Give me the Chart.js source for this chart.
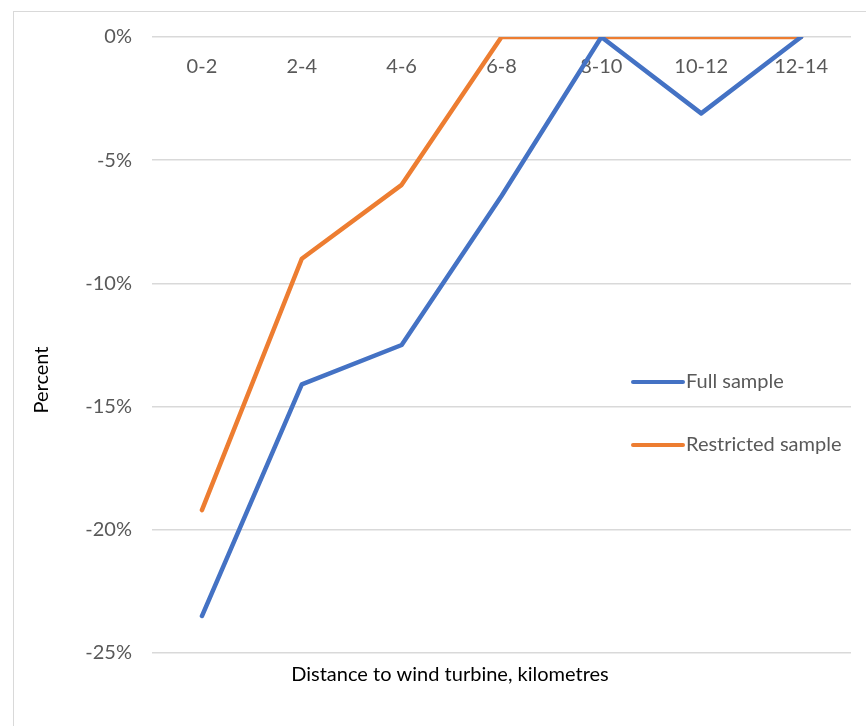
<!DOCTYPE html>
<html>
<head>
<meta charset="utf-8">
<script src="https://cdn.jsdelivr.net/npm/chart.js@4/dist/chart.umd.min.js"></script>
<style>
  html, body { margin: 0; padding: 0; background: #fff; overflow: hidden; }
  #frame {
    position: absolute; left: 13px; top: 11px;
    width: 872px; height: 730px;
    border: 1px solid #d9d9d9;
  }
  #chart { display: block; }
</style>
</head>
<body>
<div id="frame"><canvas id="chart" width="872" height="730"></canvas></div>
<script>
// categories and series (percent)
const distances = ['0-2', '2-4', '4-6', '6-8', '8-10', '10-12', '12-14']
const fullSample = [-23.5, -14.1, -12.5, -6.45, 0, -3.1, 0]
const restrictedSample = [-19.2, -9.0, -6.0, 0, 0, 0, 0]
const yTicks = [0, -5, -10, -15, -20, -25]

const FONT = 'Lato'
const GREY = '#595959'

// legend drawn inside the plot, like the Excel one, plus the y title
// centred on the whole chart rather than on the axis
const extras = {
    id: 'extras',
    afterDatasetsDraw(chart) {
        const ctx = chart.ctx
        const items = chart.data.datasets
        const x0 = 619, x1 = 669
        const ys = [370, 433]
        ctx.save()
        ctx.font = '20px ' + FONT
        ctx.textBaseline = 'middle'
        items.forEach((ds, i) => {
            ctx.strokeStyle = ds.borderColor
            ctx.lineWidth = 4
            ctx.lineCap = 'round'
            ctx.beginPath()
            ctx.moveTo(x0, ys[i])
            ctx.lineTo(x1, ys[i])
            ctx.stroke()
            ctx.fillStyle = GREY
            ctx.fillText(ds.label, x1 + 3, ys[i])
        })
        ctx.translate(28, 368)
        ctx.rotate(-Math.PI / 2)
        ctx.textAlign = 'center'
        ctx.fillStyle = '#000'
        ctx.fillText('Percent', 0, 0)
        ctx.restore()
    }
}

function fixWidth(w) {
    return (scale) => {
        scale.width = w
        scale.paddingTop = 0
        scale.paddingBottom = 0
    }
}

new Chart(document.getElementById('chart'), {
    type: 'line',
    data: {
        labels: distances,
        datasets: [
            {
                label: 'Full sample',
                data: fullSample,
                borderColor: '#4472C4',
                backgroundColor: '#4472C4',
                borderWidth: 4.5,
                pointRadius: 0,
                tension: 0,
                borderCapStyle: 'round',
                borderJoinStyle: 'round'
            },
            {
                label: 'Restricted sample',
                data: restrictedSample,
                borderColor: '#ED7D31',
                backgroundColor: '#ED7D31',
                borderWidth: 4.5,
                pointRadius: 0,
                tension: 0,
                borderCapStyle: 'round',
                borderJoinStyle: 'round'
            }
        ]
    },
    options: {
        responsive: false,
        animation: false,
        layout: { padding: { left: 0, right: 0, top: 25, bottom: 55 } },
        plugins: {
            legend: { display: false },
            tooltip: { enabled: false },
            title: {
                display: true,
                position: 'bottom',
                text: 'Distance to wind turbine, kilometres',
                color: '#000',
                font: { family: FONT, size: 20, weight: 'normal' },
                padding: { top: 10, bottom: 0 }
            }
        },
        scales: {
            x: {
                position: { y: 0 },
                offset: true,
                grid: { display: false },
                border: { display: false },
                ticks: {
                    color: GREY,
                    padding: 10,
                    maxRotation: 0,
                    font: { family: FONT, size: 20 }
                }
            },
            y: {
                min: -25,
                max: 0,
                afterBuildTicks: (scale) => { scale.ticks = yTicks.map(v => ({ value: v })) },
                afterFit: fixWidth(138),
                grid: { color: '#d9d9d9', lineWidth: 1.5, drawTicks: false },
                border: { display: false },
                ticks: {
                    color: GREY,
                    padding: 20,
                    font: { family: FONT, size: 20 },
                    callback: v => v + '%'
                }
            },
            // empty right-hand spacer so the plot ends where Excel's does
            yRight: {
                position: 'right',
                min: -25,
                max: 0,
                grid: { display: false },
                border: { display: false },
                ticks: { display: false },
                afterFit: fixWidth(35)
            }
        }
    },
    plugins: [extras]
})
</script>
</body>
</html>
